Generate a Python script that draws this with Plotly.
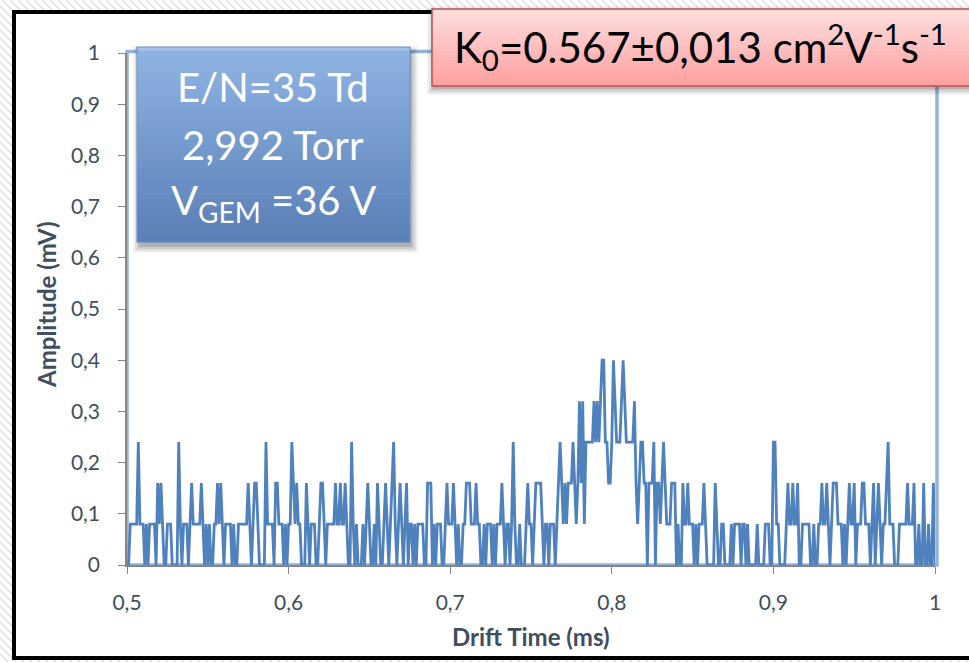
import plotly.graph_objects as go

# ---- measured signal -------------------------------------------------------
T_START_MS = 0.500      # first sample of the record
SAMPLE_MS = 0.001       # sampling period
MV_PER_COUNT = 0.08     # digitiser resolution

counts = [
    0, 0, 1, 1, 1, 1, 1, 3, 1, 1,
    1, 0, 1, 0, 1, 1, 1, 1, 0, 2,
    1, 2, 1, 0, 0, 1, 1, 1, 0, 0,
    0, 0, 3, 1, 0, 1, 1, 1, 0, 1,
    2, 1, 1, 1, 1, 1, 2, 1, 0, 1,
    0, 1, 0, 0, 1, 1, 2, 1, 2, 1,
    0, 1, 1, 1, 1, 0, 1, 0, 0, 1,
    1, 1, 1, 1, 1, 2, 1, 0, 1, 2,
    2, 1, 0, 0, 0, 0, 3, 1, 1, 1,
    1, 0, 2, 2, 1, 1, 1, 0, 1, 0,
    1, 1, 3, 2, 1, 2, 1, 1, 0, 0,
    0, 2, 1, 0, 1, 1, 1, 0, 0, 1,
    2, 2, 1, 0, 1, 1, 1, 1, 1, 2,
    1, 1, 2, 1, 1, 2, 1, 0, 0, 3,
    1, 0, 1, 0, 0, 0, 1, 0, 1, 2,
    1, 0, 0, 1, 0, 2, 1, 0, 0, 1,
    2, 1, 0, 1, 2, 3, 1, 0, 1, 2,
    1, 0, 1, 2, 0, 1, 1, 0, 1, 0,
    1, 1, 1, 1, 0, 0, 2, 2, 2, 0,
    1, 0, 1, 1, 1, 0, 0, 1, 2, 1,
    1, 1, 2, 1, 0, 1, 0, 0, 1, 1,
    2, 2, 2, 1, 1, 1, 2, 1, 1, 0,
    0, 1, 0, 1, 1, 1, 0, 1, 0, 1,
    1, 1, 2, 1, 0, 1, 1, 0, 1, 3,
    1, 0, 0, 1, 0, 0, 0, 1, 2, 1,
    1, 0, 1, 2, 2, 2, 2, 1, 0, 1,
    1, 0, 1, 1, 1, 0, 1, 2, 3, 2,
    1, 2, 1, 2, 2, 2, 3, 2, 1, 2,
    4, 2, 4, 1, 3, 3, 3, 3, 3, 4,
    3, 4, 3, 4, 5, 5, 3, 3, 2, 2,
    3, 5, 4, 3, 3, 3, 4, 5, 4, 3,
    3, 3, 3, 3, 4, 2, 1, 2, 3, 3,
    2, 2, 0, 2, 2, 2, 3, 0, 2, 2,
    1, 2, 3, 2, 1, 1, 1, 2, 2, 2,
    0, 1, 0, 0, 2, 1, 1, 2, 1, 1,
    1, 0, 1, 0, 1, 1, 1, 2, 1, 0,
    0, 0, 0, 0, 2, 1, 0, 0, 1, 1,
    0, 0, 0, 0, 1, 0, 1, 1, 1, 1,
    0, 1, 1, 0, 1, 0, 0, 0, 0, 0,
    1, 0, 0, 0, 0, 1, 1, 1, 0, 0,
    3, 3, 1, 1, 0, 0, 0, 0, 1, 2,
    1, 1, 2, 1, 1, 2, 0, 0, 1, 1,
    1, 1, 1, 0, 0, 1, 0, 0, 1, 1,
    2, 1, 1, 2, 1, 0, 1, 2, 2, 2,
    1, 1, 1, 0, 1, 0, 1, 2, 1, 1,
    2, 0, 1, 1, 1, 2, 2, 1, 1, 1,
    0, 1, 2, 0, 1, 2, 1, 0, 1, 1,
    2, 3, 1, 1, 1, 0, 0, 0, 1, 1,
    1, 1, 1, 2, 1, 1, 1, 2, 0, 0,
    1, 0, 0, 2, 0, 0, 1, 0, 0, 2,
    0,
]

drift_time_ms = [round(T_START_MS + i * SAMPLE_MS, 4) for i in range(len(counts))]
amplitude_mv = [round(c * MV_PER_COUNT, 3) for c in counts]

x_tick_vals = [0.5, 0.6, 0.7, 0.8, 0.9, 1.0]
x_tick_text = ["0,5", "0,6", "0,7", "0,8", "0,9", "1"]
y_tick_vals = [0.0, 0.1, 0.2, 0.3, 0.4, 0.5, 0.6, 0.7, 0.8, 0.9, 1.0]
y_tick_text = ["0", "0,1", "0,2", "0,3", "0,4", "0,5", "0,6", "0,7", "0,8", "0,9", "1"]

x_title = "Drift Time (ms)"
y_title = "Amplitude (mV)"
conditions = ["E/N=35 Td", "2,992 Torr", "V<sub>GEM</sub> =36 V"]
mobility = "K<sub>0</sub>=0.567±0,013 cm<sup>2</sup>V<sup>-1</sup>s<sup>-1</sup>"

# ---- page geometry (pixels) ------------------------------------------------
W, H = 969, 662
PL, PR, PT, PB = 127, 935, 53, 565      # plot-area edges


def fx(px):
    return (px - PL) / (PR - PL)


def fy(py):
    return (PB - py) / (PB - PT)


def rect(x0, y0, x1, y1, **kw):
    return dict(type="rect", xref="paper", yref="paper",
                x0=fx(x0), x1=fx(x1), y0=fy(y1), y1=fy(y0), **kw)


def lerp_color(c0, c1, t):
    return "rgb({},{},{})".format(*[round(a + (b - a) * t) for a, b in zip(c0, c1)])


shapes = []

# diagonal hatching behind the chart frame
segs = []
step = 8
for x0 in range(-H, W + step, step):
    segs.append("M{:.5f},{:.5f}L{:.5f},{:.5f}".format(fx(x0), fy(0), fx(x0 + H), fy(H)))
shapes.append(dict(type="path", xref="paper", yref="paper", path="".join(segs),
                   line=dict(color="#DEDEDE", width=1.4), layer="below"))

# chart frame
shapes.append(rect(14, 12, 1000, 658, fillcolor="white",
                   line=dict(color="black", width=4), layer="below"))
# plot-area border
shapes.append(rect(PL, 51.5, 937, PB, fillcolor="white",
                   line=dict(color="#95B3D7", width=3.5), layer="below"))


def gradient_box(x0, y0, x1, y1, top, bottom, n=40):
    out = []
    h = (y1 - y0) / n
    for k in range(n):
        out.append(rect(x0, y0 + k * h, x1, y0 + (k + 1) * h + 0.6,
                        fillcolor=lerp_color(top, bottom, k / (n - 1)),
                        line=dict(width=0), layer="above"))
    return out


def soft_shadow(x0, y0, x1, y1, dx, dy):
    out = []
    for grow, alpha in [(6, 0.05), (4, 0.07), (2, 0.09), (0, 0.12)]:
        out.append(rect(x0 + dx - grow, y0 + dy - grow, x1 + dx + grow, y1 + dy + grow,
                        fillcolor="rgba(0,0,0,{})".format(alpha),
                        line=dict(width=0), layer="above"))
    return out


# conditions box (blue)
BX0, BY0, BX1, BY1 = 137, 47, 410, 242
shapes += soft_shadow(BX0, BY0, BX1, BY1, 2, 5)
shapes += gradient_box(BX0, BY0, BX1, BY1, (143, 180, 227), (90, 127, 182))
shapes.append(rect(BX0, BY0, BX1, BY0 + 4, fillcolor="rgba(255,255,255,0.18)",
                   line=dict(width=0), layer="above"))
shapes.append(rect(BX0, BY0, BX1, BY1, fillcolor="rgba(0,0,0,0)",
                   line=dict(color="#6F93C6", width=1.2), layer="above"))

# mobility box (pink)
KX0, KY0, KX1, KY1 = 432, 9, 1000, 86
shapes += soft_shadow(KX0, KY0, KX1, KY1, 1, 3)
shapes += gradient_box(KX0, KY0, KX1, KY1, (255, 222, 222), (255, 160, 160))
shapes.append(rect(KX0, KY0, KX1, KY1, fillcolor="rgba(0,0,0,0)",
                   line=dict(color="#C0504D", width=1.5), layer="above"))

# ---- figure ----------------------------------------------------------------
FONT = "Lato"
LABEL_COLOR = "#3F4E60"

fig = go.Figure()
fig.add_trace(go.Scatter(
    x=drift_time_ms, y=amplitude_mv, mode="lines",
    line=dict(color="#4F81BD", width=2.8), hoverinfo="skip", showlegend=False))

annotations = []
for text, cy in zip(conditions, [87, 145, 202]):
    annotations.append(dict(xref="paper", yref="paper", x=fx(273), y=fy(cy),
                            text=text, showarrow=False, xanchor="center", yanchor="middle",
                            font=dict(family=FONT, size=40, color="white")))
annotations.append(dict(xref="paper", yref="paper", x=fx(452), y=fy(46),
                        text=mobility, showarrow=False, xanchor="left", yanchor="middle",
                        font=dict(family=FONT, size=42, color="black")))
annotations.append(dict(xref="paper", yref="paper", x=fx(531), y=fy(636),
                        text="<b>" + x_title + "</b>", showarrow=False,
                        xanchor="center", yanchor="middle",
                        font=dict(family=FONT, size=24, color=LABEL_COLOR)))
annotations.append(dict(xref="paper", yref="paper", x=fx(46), y=fy(305),
                        text="<b>" + y_title + "</b>", showarrow=False, textangle=-90,
                        xanchor="center", yanchor="middle",
                        font=dict(family=FONT, size=24, color=LABEL_COLOR)))

axis_common = dict(showgrid=False, zeroline=False, showline=True,
                   linecolor="#868686", linewidth=1.5,
                   ticks="outside", ticklen=7, tickwidth=1.2, tickcolor="#868686",
                   tickfont=dict(family=FONT, size=21, color=LABEL_COLOR))

fig.update_layout(
    width=W, height=H,
    margin=dict(l=PL, r=W - PR, t=PT, b=H - PB, autoexpand=False),
    paper_bgcolor="white", plot_bgcolor="white",
    xaxis=dict(range=[0.5, 1.0], tickvals=x_tick_vals, ticktext=x_tick_text,
               ticklabelstandoff=11, **axis_common),
    yaxis=dict(range=[0, 1.0], tickvals=y_tick_vals, ticktext=y_tick_text,
               ticklabelstandoff=14, **axis_common),
    shapes=shapes,
    annotations=annotations,
    showlegend=False,
)

fig.write_html("out.html")
